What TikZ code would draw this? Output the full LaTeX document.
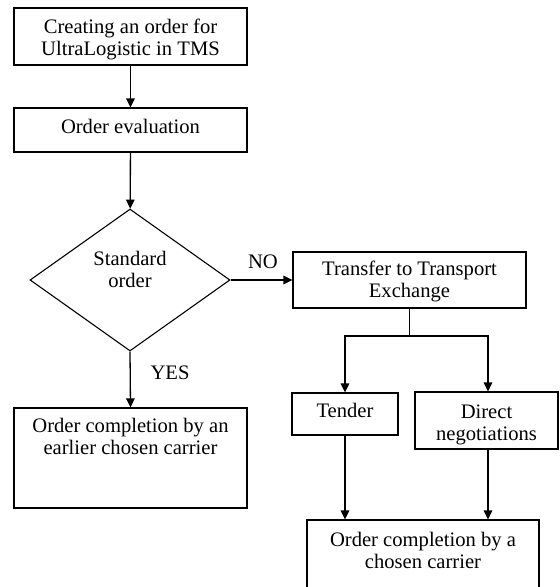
\documentclass[tikz,border=0pt]{standalone}
\usepackage{fontspec}
\setmainfont{Liberation Serif}
\usetikzlibrary{shapes.geometric,arrows.meta}
\begin{document}
\begin{tikzpicture}[x=1pt,y=-1pt,
  box/.style={draw, line width=1.1pt, inner sep=0pt},
  txt/.style={inner sep=0pt, align=center, anchor=base,
    font=\fontsize{20.6}{22}\selectfont},
  flow/.style={line width=1.3pt, -{Triangle[length=9pt,width=8.5pt]}},
  wire/.style={line width=1.3pt}]
\useasboundingbox (0,0) rectangle (560,587);

% boxes and decision
\node[box, minimum width=233pt, minimum height=57pt] (create) at (130.5,36.5) {};
\node[box, minimum width=233pt, minimum height=44pt] (eval) at (130.5,130) {};
\node[box, diamond, aspect=1.41, minimum width=200pt, minimum height=142pt] (std) at (130,280) {};
\node[box, minimum width=233pt, minimum height=56pt] (exch) at (409.5,280) {};
\node[box, minimum width=233pt, minimum height=100pt] (early) at (130.5,458) {};
\node[box, minimum width=106pt, minimum height=42pt] (tender) at (345,414) {};
\node[box, minimum width=143pt, minimum height=57pt] (direct) at (486.5,420.5) {};
\node[box, minimum width=232pt, minimum height=80pt] (final) at (423,560) {};

% texts (base anchor sits on the last line)
\node[txt] (createT) at (130.5,55) {Creating an order for\\UltraLogistic in TMS};
\node[txt] (evalT) at (130.5,133) {Order evaluation};
\node[txt] (stdT) at (130,287) {Standard\\order};
\node[txt] (exchT) at (409.5,297) {Transfer to Transport\\Exchange};
\node[txt] (earlyT) at (130.5,454) {Order completion by an\\earlier chosen carrier};
\node[txt] (tenderT) at (345,417) {Tender};
\node[txt] (directT) at (486.5,440) {Direct\\negotiations};
\node[txt] (finalT) at (423,568) {Order completion by a\\chosen carrier};
\node[txt] (noT) at (263,268) {NO};
\node[txt] (yesT) at (170,379) {YES};

% connectors
\draw[flow] (create) -- (eval);
\draw[flow] (eval) -- (std);
\draw[flow] (std.east) -- (exch.west);
\draw[flow] (std.south) -- (early.north);
\coordinate (split) at (exch.south |- 0,336);
\draw[wire] (exch.south) -- (split);
\draw[flow] (split) -| (tender.north);
\draw[flow] (split) -| ([xshift=1.5pt]direct.north);
\draw[flow] (tender.south) -- (tender.south |- final.north);
\draw[flow] ([xshift=1.5pt]direct.south) -- ([xshift=1.5pt]direct.south |- final.north);
\end{tikzpicture}
\end{document}
